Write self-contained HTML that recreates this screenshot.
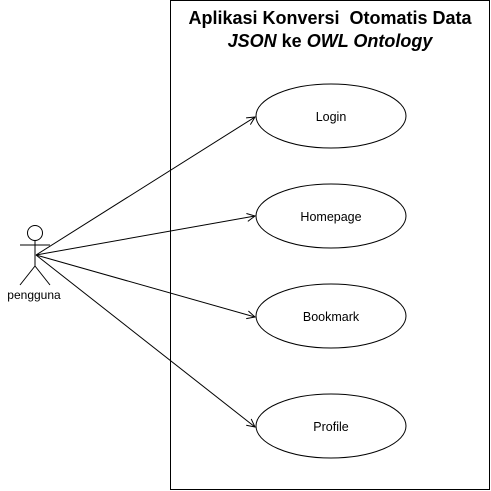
<!DOCTYPE html>
<html><head><style>body{margin:0;background:#fff}svg{display:block}</style></head><body>
<svg width="491" height="491" xmlns="http://www.w3.org/2000/svg" font-family="Liberation Sans, Arial, sans-serif">
<defs><marker id="a" markerWidth="10" markerHeight="10" refX="9" refY="5" orient="auto" markerUnits="userSpaceOnUse"><path d="M1,1 L9,5 L1,9" fill="none" stroke="#000"/></marker></defs>
<rect x="170.5" y="0.5" width="319" height="489" fill="#fff" stroke="#000"/>
<text x="330" y="24" text-anchor="middle" font-size="18" font-weight="bold">Aplikasi Konversi &#160;Otomatis Data</text>
<text x="330" y="47" text-anchor="middle" font-size="18" font-weight="bold"><tspan font-style="italic">JSON</tspan> ke <tspan font-style="italic">OWL Ontology</tspan></text>
<g fill="#fff" stroke="#000">
<ellipse cx="331" cy="116" rx="75" ry="32"/>
<ellipse cx="331" cy="216" rx="75" ry="32"/>
<ellipse cx="331" cy="316" rx="75" ry="32"/>
<ellipse cx="331" cy="426" rx="75" ry="32"/>
</g>
<g font-size="12.5" text-anchor="middle">
<text x="331" y="121">Login</text><text x="331" y="221">Homepage</text><text x="331" y="321">Bookmark</text><text x="331" y="431">Profile</text>
</g>
<g stroke="#000" fill="none">
<circle cx="35" cy="233" r="7.5"/>
<line x1="35" y1="240.5" x2="35" y2="266"/>
<line x1="20" y1="245" x2="50" y2="245"/>
<line x1="35" y1="266" x2="20" y2="285"/>
<line x1="35" y1="266" x2="50" y2="285"/>
<g marker-end="url(#a)">
<line x1="36" y1="255" x2="255" y2="117"/>
<line x1="36" y1="255" x2="255" y2="216"/>
<line x1="36" y1="255" x2="255" y2="317"/>
<line x1="36" y1="255" x2="255" y2="427"/>
</g>
</g>
<text x="34" y="299" text-anchor="middle" font-size="12">pengguna</text>
</svg>
</body></html>
